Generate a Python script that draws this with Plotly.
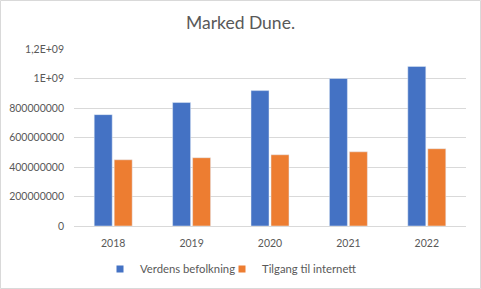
import plotly.graph_objects as go

years = ["2018", "2019", "2020", "2021", "2022"]
verdens = [755e6, 837e6, 918e6, 1000e6, 1082e6]
tilgang = [449e6, 463e6, 483e6, 503e6, 524e6]
ytick_vals = [0, 2e8, 4e8, 6e8, 8e8, 1e9, 1.2e9]
ytick_text = ["0", "200000000", "400000000", "600000000", "800000000", "1E+09", "1,2E+09"]
series_names = ["Verdens befolkning", "Tilgang til internett"]
colors = ["#4472C4", "#ED7D31"]

W, H = 481, 289
ml, mr, mt, mb = 74, 15, 49, 63
pw, ph = W - ml - mr, H - mt - mb

font = "Lato, 'Open Sans', sans-serif"
grey = "#595959"

fig = go.Figure()
for name, vals, c in zip(series_names, [verdens, tilgang], colors):
    fig.add_trace(go.Bar(x=years, y=vals, name=name, marker_color=c,
                         showlegend=False, legendgroup=name))
legend_ids = ["legend", "legend2"]
for name, c, lg in zip(series_names, colors, legend_ids):
    fig.add_trace(go.Scatter(x=[None], y=[None], mode="markers", name=name,
                             legendgroup=name, legend=lg,
                             marker=dict(symbol="square", size=7, color=c)))

def px(x):
    return (x - ml) / pw
def py(y):
    return (H - mb - y) / ph

leg_common = dict(orientation="h", xanchor="left", xref="container",
                  y=1 - 269 / H, yref="container", yanchor="middle",
                  font=dict(family=font, size=11.3, color=grey), itemwidth=30,
                  bgcolor="rgba(0,0,0,0)")

fig.update_layout(
    width=W, height=H,
    margin=dict(l=ml, r=mr, t=mt, b=mb, autoexpand=False),
    paper_bgcolor="white", plot_bgcolor="white",
    barmode="group", bargap=0.49, bargroupgap=0.1,
    title=dict(text="Marked Dune.", x=0.5, xref="container", xanchor="center",
               y=1 - 23 / H, yanchor="middle",
               font=dict(family=font, size=17.5, color=grey)),
    font=dict(family=font, size=11, color=grey),
    legend=dict(x=100 / W, **leg_common),
    legend2=dict(x=222 / W, **leg_common),
    shapes=[dict(type="rect", xref="paper", yref="paper",
                 x0=px(0.5), x1=px(480.5), y0=py(288.5), y1=py(0.5),
                 line=dict(color="#d9d9d9", width=1))],
)
fig.update_yaxes(range=[0, 1.2e9], tickvals=ytick_vals, ticktext=ytick_text,
                 showgrid=True, gridcolor="#d9d9d9", gridwidth=1, zeroline=False,
                 ticks="", tickfont=dict(size=10.5, color=grey),
                 ticklabelstandoff=9, automargin=False)
fig.update_xaxes(showline=True, linecolor="#d9d9d9", linewidth=1, ticks="",
                 tickfont=dict(size=10.5, color=grey), ticklabelstandoff=7,
                 automargin=False)

fig.write_html("out.html")
